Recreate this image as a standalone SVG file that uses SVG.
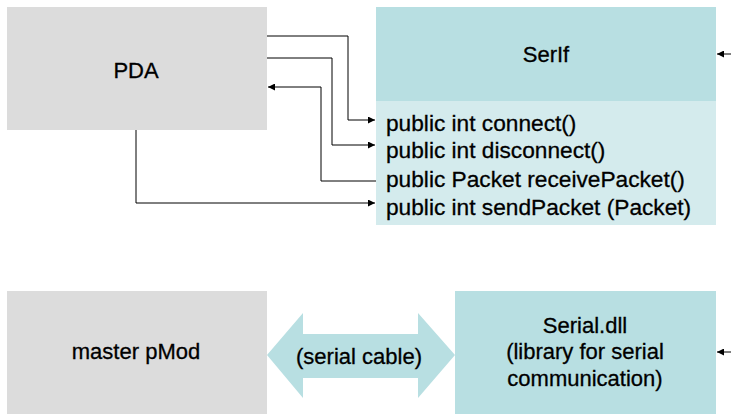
<svg xmlns="http://www.w3.org/2000/svg" width="731" height="414" viewBox="0 0 731 414">
<defs>
<style>
.gray{fill:#dcdcdc}
.teal{fill:#b8dfe2}
.light{fill:#d4ebed}
.t{font-family:"Liberation Sans",Arial,sans-serif;font-size:22px;fill:#000;stroke:#000;stroke-width:0.3}
.m{font-size:22.7px}
.c{text-anchor:middle}
.ln{fill:none;stroke:#000;stroke-width:1}
</style>
<marker id="ah" viewBox="0 0 10 10" refX="10" refY="5" markerWidth="8" markerHeight="7" markerUnits="userSpaceOnUse" orient="auto">
<path d="M0,0 L10,5 L0,10 z" fill="#000"/>
</marker>
</defs>
<rect width="731" height="414" fill="#fff"/>
<g id="pda">
<rect class="gray" x="7" y="7" width="260" height="123"/>
<text class="t c" x="136" y="78">PDA</text>
</g>
<g id="serif">
<rect class="teal" x="376" y="7" width="340" height="94"/>
<rect class="light" x="376" y="101" width="340" height="124"/>
<text class="t c" x="546" y="62">SerIf</text>
<text class="t m" x="386" y="131">public int connect()</text>
<text class="t m" x="386" y="158">public int disconnect()</text>
<text class="t m" x="386" y="187">public Packet receivePacket()</text>
<text class="t m" x="386" y="215">public int sendPacket (Packet)</text>
</g>
<g id="master-pmod">
<rect class="gray" x="7" y="291" width="260" height="123"/>
<text class="t c" x="136" y="359">master pMod</text>
</g>
<g id="serial-dll">
<rect class="teal" x="455" y="291" width="261" height="123"/>
<text class="t c" x="585" y="333">Serial.dll</text>
<text class="t c" x="585" y="359">(library for serial</text>
<text class="t c" x="585" y="386">communication)</text>
</g>
<g id="serial-cable">
<polygon class="teal" points="267,355 303,313 303,334 418,334 418,313 455,355 418,398 418,378 303,378 303,398"/>
<text class="t c" x="359" y="364">(serial cable)</text>
</g>
<g id="connectors">
<polyline class="ln" points="267,36 348,36 348,120 375,120" marker-end="url(#ah)"/>
<polyline class="ln" points="267,58 332,58 332,145 375,145" marker-end="url(#ah)"/>
<polyline class="ln" points="376,181 321,181 321,87 268,87" marker-end="url(#ah)"/>
<polyline class="ln" points="136,130 136,203 375,203" marker-end="url(#ah)"/>
<line class="ln" x1="731" y1="54" x2="717" y2="54" marker-end="url(#ah)"/>
<line class="ln" x1="731" y1="352" x2="717" y2="352" marker-end="url(#ah)"/>
</g>
</svg>
